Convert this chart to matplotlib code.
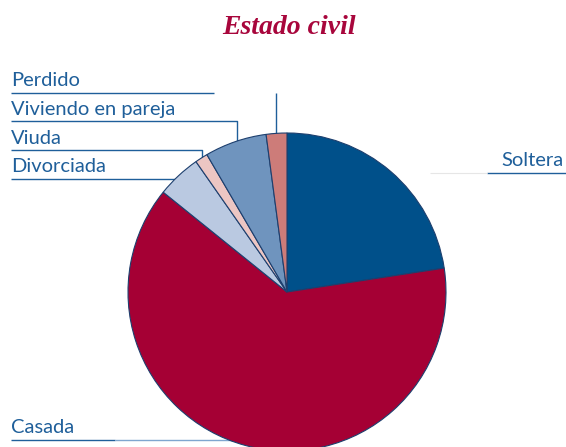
import matplotlib.pyplot as plt

# estado civil, shares (%)
categorias = ['Soltera', 'Casada', 'Divorciada', 'Viuda', 'Viviendo en pareja', 'Perdido']
valores = [22.6, 63.2, 4.5, 1.3, 6.3, 2.1]
colores = ['#00508a', '#a50034', '#bac9e1', '#ecc6c3', '#6f94be', '#cd7c79']

fig = plt.figure(figsize=(5.66, 4.47), dpi=100)
ax = fig.add_axes([0, 0, 1, 1])

H = 447
azul = '#1f5f9a'

# leader lines (pixel coords, y from top)
def linea(xs, ys, color=azul, lw=1.0, z=1):
    ax.plot(xs, [H - y for y in ys], color=color, lw=lw, zorder=z, solid_capstyle='butt')

linea([11, 214], [92.5, 92.5])
linea([276, 276], [93, 134])
linea([11, 236.5, 236.5], [121, 121, 142])
linea([11, 202, 202], [150, 150, 160])
linea([11, 180], [178.5, 178.5])
linea([11, 115], [440, 440])
linea([115, 260], [440, 440], color='#7fa6cf')
linea([487, 566], [172.5, 172.5])
linea([430, 487], [173, 173], color='#e6e6e6', lw=0.8)

wedges, _ = ax.pie(valores, colors=colores, startangle=90, counterclock=False,
                   center=(287, H - 292), radius=159, frame=True,
                   wedgeprops=dict(edgecolor='#1d3f6e', linewidth=0.8))
for w in wedges:
    w.set_zorder(2)
ax.set_xlim(0, 566)
ax.set_ylim(0, 447)
ax.set_aspect('equal')
ax.axis('off')

fuente = 'Lato'
fs = 14.5
ax.text(11, H - 86, 'Perdido', fontsize=fs, family=fuente, color=azul, va='baseline')
ax.text(11, H - 115, 'Viviendo en pareja', fontsize=fs, family=fuente, color=azul, va='baseline')
ax.text(11, H - 144, 'Viuda', fontsize=fs, family=fuente, color=azul, va='baseline')
ax.text(11, H - 172, 'Divorciada', fontsize=fs, family=fuente, color=azul, va='baseline')
ax.text(11, H - 433, 'Casada', fontsize=fs, family=fuente, color=azul, va='baseline')
ax.text(563, H - 166, 'Soltera', fontsize=fs, family=fuente, color=azul, va='baseline', ha='right')

ax.text(289, H - 34, 'Estado civil', fontsize=20, family='Liberation Serif',
        style='italic', weight='bold', color='#a8063c', ha='center', va='baseline')

fig.savefig('out.png', dpi=100)
